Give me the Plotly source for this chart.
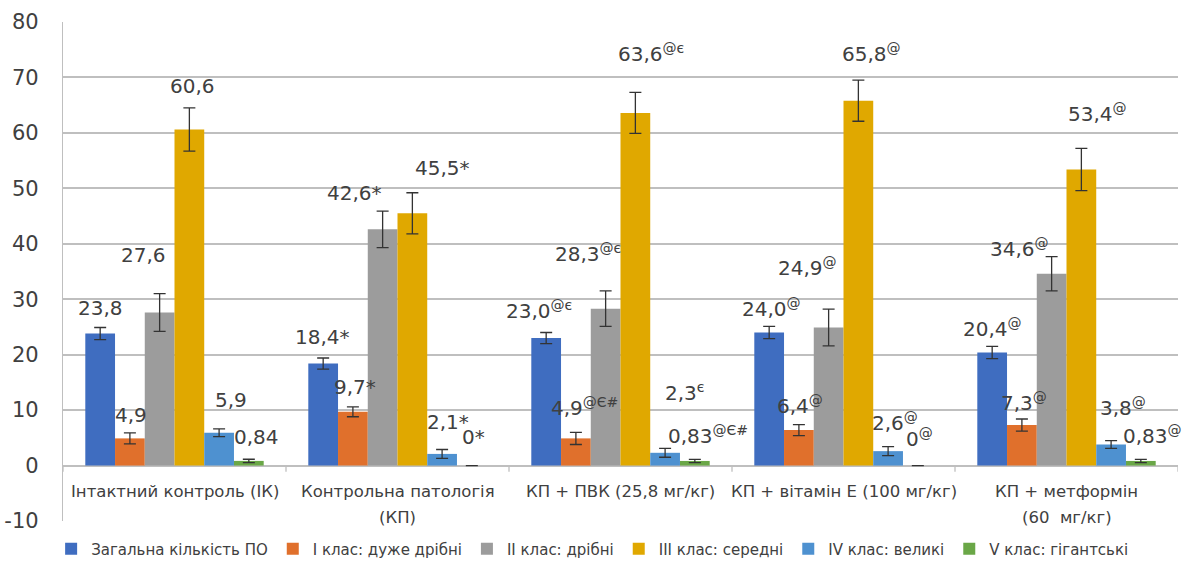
import plotly.graph_objects as go

categories = ["Інтактний контроль (ІК)", "Контрольна патологія<br>(КП)",
              "КП + ПВК (25,8 мг/кг)", "КП + вітамін Е (100 мг/кг)",
              "КП + метформін<br>(60  мг/кг)"]

series_names = ["Загальна кількість ПО", "І клас: дуже дрібні", "ІІ клас: дрібні",
                "ІІІ клас: середні", "ІV клас: великі", "V клас: гігантські"]

total = [23.8, 18.4, 23.0, 24.0, 20.4]
cls1 = [4.9, 9.7, 4.9, 6.4, 7.3]
cls2 = [27.6, 42.6, 28.3, 24.9, 34.6]
cls3 = [60.6, 45.5, 63.6, 65.8, 53.4]
cls4 = [5.9, 2.1, 2.3, 2.6, 3.8]
cls5 = [0.84, 0, 0.83, 0, 0.83]

err_total = [1.1, 1.0, 1.0, 1.1, 1.1]
err_cls1 = [1.0, 0.9, 1.1, 1.0, 1.1]
err_cls2 = [3.4, 3.3, 3.2, 3.3, 3.1]
err_cls3 = [3.9, 3.7, 3.7, 3.7, 3.8]
err_cls4 = [0.7, 0.8, 0.8, 0.8, 0.7]
err_cls5 = [0.3, 0.0, 0.3, 0.0, 0.3]

# significance marks (superscripts)
marks_total = ["", "*", "@є", "@", "@"]
marks_cls1 = ["", "*", "@Є#", "@", "@"]
marks_cls2 = ["", "*", "@є", "@", "@"]
marks_cls3 = ["", "*", "@є", "@", "@"]
marks_cls4 = ["", "*", "є", "@", "@"]
marks_cls5 = ["", "*", "@Є#", "@", "@"]

decimals = [1, 1, 1, 1, 1, 2]

y_tick_values = [-10, 0, 10, 20, 30, 40, 50, 60, 70, 80]
y_tick_labels = ["-10", "0", "10", "20", "30", "40", "50", "60", "70", "80"]

# label placement (data y, pixel x-offset from group centre)
lab_y_total = [28.5, 23.1, 28.1, 28.5, 24.9]
lab_y_cls1 = [9.2, 14.1, 10.5, 11.0, 11.5]
lab_y_cls2 = [38.0, 49.2, 38.4, 35.9, 39.3]
lab_y_cls3 = [68.5, 53.7, 74.4, 74.4, 63.6]
lab_y_cls4 = [11.9, 7.9, 13.2, 7.8, 10.5]
lab_y_cls5 = [5.2, 5.2, 5.6, 5.0, 5.6]

lab_dx_total = [-74.5, -75.5, -81.5, -72.5, -74.5]
lab_dx_cls1 = [-43.5, -42.5, -36.5, -43.5, -42.5]
lab_dx_cls2 = [-31.5, -43.5, -32.5, -36.5, -47.5]
lab_dx_cls3 = [17.5, 44.5, 30.5, 27.5, 30.5]
lab_dx_cls4 = [56.5, 50.5, 64.5, 51.5, 56.5]
lab_dx_cls5 = [81.5, 75.5, 87.5, 75.5, 86.0]

colors = ["#3F6DC0", "#E0702C", "#9C9C9C", "#E0A800", "#4E91D0", "#6AA747"]

values = [total, cls1, cls2, cls3, cls4, cls5]
errors = [err_total, err_cls1, err_cls2, err_cls3, err_cls4, err_cls5]
marks = [marks_total, marks_cls1, marks_cls2, marks_cls3, marks_cls4, marks_cls5]
lab_y = [lab_y_total, lab_y_cls1, lab_y_cls2, lab_y_cls3, lab_y_cls4, lab_y_cls5]
lab_dx = [lab_dx_total, lab_dx_cls1, lab_dx_cls2, lab_dx_cls3, lab_dx_cls4, lab_dx_cls5]

TXT = "#404040"
GRID = "#BFBFBF"
FONT = "DejaVu Sans"

xcats = list(range(len(categories)))

fig = go.Figure()
for name, vals, errs, col in zip(series_names, values, errors, colors):
    fig.add_trace(go.Bar(
        x=xcats, y=vals, name=name, marker=dict(color=col, line=dict(width=0)),
        error_y=dict(type="data", array=errs, color="#333333", thickness=1.3, width=6),
    ))

def fmt(v, d):
    if v == 0:
        return "0"
    return f"{v:.{d}f}".replace(".", ",")

annotations = []
for s in range(len(values)):
    for g in range(len(categories)):
        t = fmt(values[s][g], decimals[s])
        if marks[s][g]:
            if marks[s][g] == "*":
                t += "*"
            else:
                t += "<sup>" + marks[s][g] + "</sup>"
        annotations.append(dict(
            x=xcats[g], y=lab_y[s][g], xref="x", yref="y", text=t, showarrow=False,
            xshift=lab_dx[s][g], font=dict(family=FONT, size=20, color=TXT),
            xanchor="center", yanchor="middle"))

for g, cat in enumerate(categories):
    for i, line in enumerate(cat.split("<br>")):
        annotations.append(dict(
            x=xcats[g], y=-4.7, xref="x", yref="y", text=line, showarrow=False,
            yshift=-26 * i, font=dict(family=FONT, size=16.5, color=TXT),
            xanchor="center", yanchor="middle"))

shapes = []
for b in range(len(categories) + 1):
    shapes.append(dict(type="line", xref="x", yref="y", x0=b - 0.5, x1=b - 0.5,
                       y0=0, y1=-1.1, line=dict(color=GRID, width=1.3)))

fig.update_layout(
    width=1186, height=564,
    margin=dict(l=63, r=8, t=22, b=43, autoexpand=False),
    plot_bgcolor="white", paper_bgcolor="white",
    barmode="group", bargap=0.2, bargroupgap=0,
    font=dict(family=FONT, color=TXT),
    showlegend=True,
    legend=dict(orientation="h", x=0.475, xanchor="center", y=-0.056, yanchor="middle",
                font=dict(family=FONT, size=15, color=TXT), itemclick=False,
                traceorder="normal", tracegroupgap=0),
    xaxis=dict(range=[-0.5, len(categories) - 0.5], showticklabels=False, showgrid=False,
               zeroline=False, showline=False, ticks="", automargin=False),
    yaxis=dict(range=[-10, 80], tickmode="array", tickvals=y_tick_values, ticktext=y_tick_labels,
               showgrid=True, gridcolor=GRID, gridwidth=1.5,
               zeroline=True, zerolinecolor=GRID, zerolinewidth=1.5,
               showline=True, linecolor=GRID, linewidth=1.3, ticks="",
               ticklabelstandoff=19, automargin=False,
               tickfont=dict(family=FONT, size=21, color=TXT)),
    annotations=annotations, shapes=shapes,
)

fig.write_html("out.html", config={"displayModeBar": False},
               post_script="document.body.style.margin='0px';document.body.style.overflow='hidden';")
